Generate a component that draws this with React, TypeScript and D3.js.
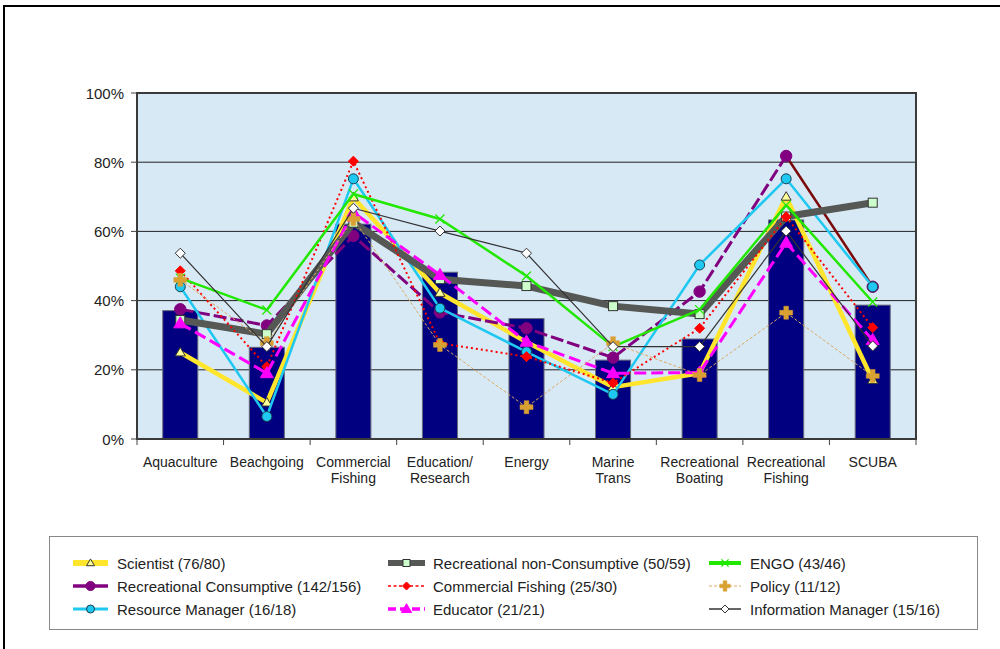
import React from "react";
import * as d3 from "d3";

const categories = [
  "Aquaculture",
  "Beachgoing",
  "Commercial\nFishing",
  "Education/\nResearch",
  "Energy",
  "Marine\nTrans",
  "Recreational\nBoating",
  "Recreational\nFishing",
  "SCUBA",
];
const barValues = [37.1, 26.5, 62.1, 48.2, 34.8, 22.8, 28.9, 63.3, 38.7];
const yTicks = [0, 20, 40, 60, 80, 100];

const scientist = [25, 10.5, 69.8, 42.2, 28, 15, 19, 70, 17];
const recConsumptive = [37.5, 32.8, 58.7, 36.6, 32, 23.5, 42.6, 81.8, 44];
const resourceManager = [44, 6.5, 75.2, 37.8, 25.2, 12.9, 50.3, 75.2, 44];
const recNonConsumptive = [34.4, 30.3, 62.5, 46.2, 44.2, 38.4, 36.1, 64.3, 68.3];
const commercialFishing = [48.6, 20.9, 80.3, 27.7, 23.8, 16.2, 32, 64.2, 32.2];
const educator = [33.4, 19, 65.5, 47.4, 28.1, 19, 19.2, 56.7, 28.6];
const engo = [46.5, 37.3, 70.8, 63.6, 47.1, 26.7, 37.4, 67.6, 39.6];
const policy = [46, 27.7, 63.6, 27.2, 9.2, 27.7, 18.5, 36.5, 18.2];
const infoManager = [53.7, 26.7, 66.7, 60.1, 53.7, 26.7, 26.7, 60.1, 26.9];

type Marker = "triangle" | "circle" | "square" | "diamond" | "x" | "cross";
interface Series {
  name: string;
  values: number[];
  color: string;
  width: number;
  dash?: string;
  marker: Marker;
  mSize: number;
  mFill: string;
  mStroke: string;
  legendWidth: number;
  legendDash?: string;
}

const series: Series[] = [
  { name: "Scientist (76/80)", values: scientist, color: "#FFE52B", width: 4.5, marker: "triangle", mSize: 5, mFill: "#FFFF99", mStroke: "#333", legendWidth: 6 },
  { name: "Recreational Consumptive (142/156)", values: recConsumptive, color: "#800080", width: 3, dash: "13,4", marker: "circle", mSize: 5.7, mFill: "#800080", mStroke: "#800080", legendWidth: 3.5 },
  { name: "Resource Manager (16/18)", values: resourceManager, color: "#1EC8F0", width: 2.5, marker: "circle", mSize: 5, mFill: "#1EC8F0", mStroke: "#1a4050", legendWidth: 3 },
  { name: "Recreational non-Consumptive (50/59)", values: recNonConsumptive, color: "#555855", width: 7, marker: "square", mSize: 9, mFill: "#CCFFCC", mStroke: "#333", legendWidth: 6 },
  { name: "Commercial Fishing (25/30)", values: commercialFishing, color: "#FF0000", width: 2, dash: "2,3", marker: "diamond", mSize: 5, mFill: "#FF0000", mStroke: "#FF0000", legendWidth: 1.5, legendDash: "3,2.5" },
  { name: "Educator (21/21)", values: educator, color: "#FF00FF", width: 3, dash: "12,5", marker: "triangle", mSize: 6.5, mFill: "#FF00FF", mStroke: "#FF00FF", legendWidth: 3.5, legendDash: "8,4" },
  { name: "ENGO (43/46)", values: engo, color: "#22E800", width: 2.5, marker: "x", mSize: 4.5, mFill: "none", mStroke: "#22E800", legendWidth: 4 },
  { name: "Policy (11/12)", values: policy, color: "#DDA860", width: 1, dash: "3,2", marker: "cross", mSize: 6.5, mFill: "#D9A032", mStroke: "#D9A032", legendWidth: 1, legendDash: "3,2" },
  { name: "Information Manager (15/16)", values: infoManager, color: "#333333", width: 1.2, marker: "diamond", mSize: 5, mFill: "#FFFFFF", mStroke: "#333", legendWidth: 1.5 },
];

const legendOrder = [
  "Scientist (76/80)",
  "Recreational non-Consumptive (50/59)",
  "ENGO (43/46)",
  "Recreational Consumptive (142/156)",
  "Commercial Fishing (25/30)",
  "Policy (11/12)",
  "Resource Manager (16/18)",
  "Educator (21/21)",
  "Information Manager (15/16)",
];

const FONT = "'Liberation Sans', Arial, sans-serif";

function markerEl(m: Marker, cx: number, cy: number, s: number, fill: string, stroke: string, key?: string) {
  switch (m) {
    case "circle":
      return <circle key={key} cx={cx} cy={cy} r={s} fill={fill} stroke={stroke} strokeWidth={1} />;
    case "square":
      return <rect key={key} x={cx - s / 2} y={cy - s / 2} width={s} height={s} fill={fill} stroke={stroke} strokeWidth={1} />;
    case "diamond":
      return <path key={key} d={`M${cx},${cy - s}L${cx + s},${cy}L${cx},${cy + s}L${cx - s},${cy}Z`} fill={fill} stroke={stroke} strokeWidth={1} />;
    case "triangle": {
      const h = s * 1.7;
      return <path key={key} d={`M${cx},${cy - h * 0.6}L${cx + s},${cy + h * 0.4}L${cx - s},${cy + h * 0.4}Z`} fill={fill} stroke={stroke} strokeWidth={1} />;
    }
    case "x":
      return (
        <path key={key} d={`M${cx - s},${cy - s}L${cx + s},${cy + s}M${cx - s},${cy + s}L${cx + s},${cy - s}`} stroke={stroke} strokeWidth={1.3} fill="none" />
      );
    case "cross": {
      const a = s * 0.36;
      const d = `M${cx - a},${cy - s}H${cx + a}V${cy - a}H${cx + s}V${cy + a}H${cx + a}V${cy + s}H${cx - a}V${cy + a}H${cx - s}V${cy - a}H${cx - a}Z`;
      return <path key={key} d={d} fill={fill} stroke={stroke} strokeWidth={0.5} />;
    }
  }
}

export default function App() {
  const left = 137, right = 916, top = 93, bottom = 439;
  const x = d3.scaleBand<string>().domain(categories).range([left, right]).padding(0);
  const y = d3.scaleLinear().domain([0, 100]).range([bottom, top]);
  const bw = x.bandwidth() * 0.405;
  const cx = (c: string) => (x(c) as number) + x.bandwidth() / 2;
  const line = d3
    .line<number>()
    .x((_, i) => cx(categories[i]))
    .y((v) => y(v));

  const legendCols = [
    { lx0: 73, lx1: 108, tx: 117 },
    { lx0: 388, lx1: 425, tx: 433 },
    { lx0: 709, lx1: 741, tx: 750 },
  ];
  const legendRows = [563, 586, 609];

  return (
    <svg width={1000} height={649} style={{ position: "absolute", left: 0, top: 0 }} fontFamily={FONT}>
      <rect x={0} y={0} width={1000} height={649} fill="#fff" />
      {/* outer frame */}
      <path d="M4,649V6H1000" fill="none" stroke="#000" strokeWidth={2} />

      {/* plot area */}
      <rect x={left} y={top} width={right - left} height={bottom - top} fill="#D8E9F6" />
      {yTicks.slice(1, -1).map((t) => (
        <line key={t} x1={left} x2={right} y1={y(t)} y2={y(t)} stroke="#222" strokeWidth={1} />
      ))}

      {/* bars */}
      {categories.map((c, i) => (
        <rect key={c} x={cx(c) - bw / 2} y={y(barValues[i])} width={bw} height={bottom - y(barValues[i])} fill="#000080" stroke="#6a6a7a" strokeWidth={1} />
      ))}

      <rect x={left} y={top} width={right - left} height={bottom - top} fill="none" stroke="#3a3a3a" strokeWidth={2} />

      {/* y axis ticks & labels */}
      {yTicks.map((t) => (
        <g key={t}>
          <line x1={131} x2={left} y1={y(t)} y2={y(t)} stroke="#444" strokeWidth={1} />
          <text x={124} y={y(t) + 5.5} textAnchor="end" fontSize={15} fill="#222">
            {t}%
          </text>
        </g>
      ))}
      {/* x ticks */}
      {d3.range(categories.length + 1).map((i) => {
        const xx = left + i * x.step();
        return <line key={i} x1={xx} x2={xx} y1={bottom} y2={bottom + 6} stroke="#444" strokeWidth={1} />;
      })}
      {categories.map((c) => (
        <text key={c} x={cx(c)} y={467} textAnchor="middle" fontSize={14} fill="#222">
          {c.split("\n").map((ln, j) => (
            <tspan key={j} x={cx(c)} dy={j === 0 ? 0 : 16}>
              {ln}
            </tspan>
          ))}
        </text>
      ))}

      {/* series lines */}
      {series.map((s) => {
        if (s.name.startsWith("Recreational Consumptive")) {
          return (
            <g key={s.name}>
              <path d={line(s.values.slice(0, 8)) || ""} fill="none" stroke={s.color} strokeWidth={s.width} strokeDasharray={s.dash} />
              <line x1={cx(categories[7])} y1={y(s.values[7])} x2={cx(categories[8])} y2={y(s.values[8])} stroke="#7A0A0A" strokeWidth={2.5} />
              {s.values.map((v, i) => markerEl(s.marker, cx(categories[i]), y(v), s.mSize, s.mFill, s.mStroke, String(i)))}
            </g>
          );
        }
        return (
          <g key={s.name}>
            <path d={line(s.values) || ""} fill="none" stroke={s.color} strokeWidth={s.width} strokeDasharray={s.dash} strokeLinejoin="round" />
            {s.values.map((v, i) => markerEl(s.marker, cx(categories[i]), y(v), s.mSize, s.mFill, s.mStroke, String(i)))}
          </g>
        );
      })}

      {/* legend */}
      <rect x={49.5} y={536.5} width={928} height={93} fill="#fff" stroke="#888" strokeWidth={1} />
      {legendOrder.map((nm, k) => {
        const s = series.find((q) => q.name === nm)!;
        const col = legendCols[k % 3];
        const ry = legendRows[Math.floor(k / 3)];
        const mx = (col.lx0 + col.lx1) / 2;
        return (
          <g key={nm}>
            <line x1={col.lx0} x2={col.lx1} y1={ry} y2={ry} stroke={s.color} strokeWidth={s.legendWidth} strokeDasharray={s.legendDash} />
            {markerEl(s.marker, mx, ry, s.marker === "square" ? 7 : s.mSize * 0.8, s.mFill, s.mStroke)}
            <text x={col.tx} y={ry + 5.5} fontSize={15} fill="#222">
              {nm}
            </text>
          </g>
        );
      })}
    </svg>
  );
}
